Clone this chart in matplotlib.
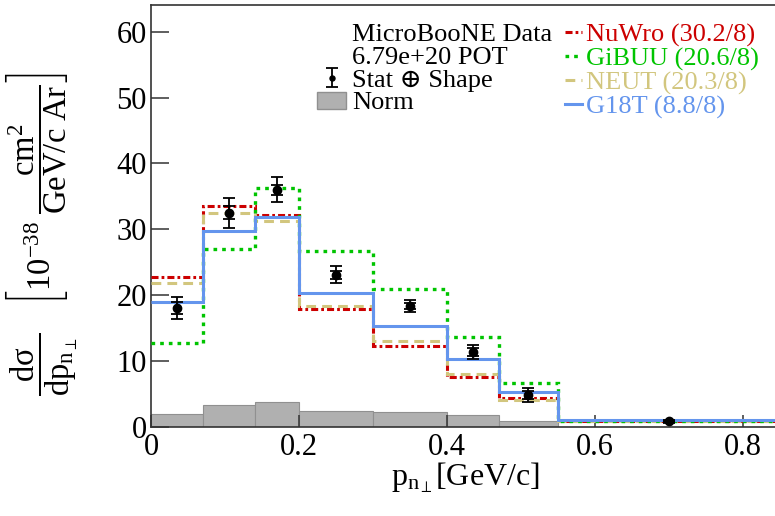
import matplotlib
matplotlib.use('Agg')
import matplotlib.pyplot as plt
from matplotlib.lines import Line2D
from matplotlib.patches import Patch
from matplotlib.legend_handler import HandlerErrorbar

# ---- data ----
bin_edges = [0.0, 0.07, 0.14, 0.20, 0.30, 0.40, 0.47, 0.55, 0.85]
bin_centers = [0.035, 0.105, 0.17, 0.25, 0.35, 0.435, 0.51, 0.70]
data_values = [18.0, 32.5, 36.0, 23.1, 18.3, 11.3, 4.8, 0.8]
err_total = [1.7, 2.3, 1.9, 1.3, 0.9, 1.1, 1.1, 0.2]
err_stat = [0.9, 1.0, 0.8, 0.6, 0.5, 0.6, 0.6, 0.1]
norm_unc = [1.95, 3.2, 3.8, 2.4, 2.15, 1.7, 0.8, 0.0]
nuwro = [22.8, 33.6, 32.1, 17.9, 12.3, 7.5, 4.3, 0.8]
gibuu = [12.7, 27.0, 36.2, 26.7, 20.9, 13.6, 6.6, 0.9]
neut = [21.8, 32.4, 31.3, 18.3, 13.0, 8.0, 4.0, 0.8]
g18t = [19.0, 29.8, 31.8, 20.3, 15.3, 10.3, 5.3, 1.0]
model_names = ["NuWro (30.2/8)", "GiBUU (20.6/8)", "NEUT (20.3/8)", "G18T (8.8/8)"]
x_ticks = [0, 0.2, 0.4, 0.6, 0.8]
x_tick_labels = ['0', '0.2', '0.4', '0.6', '0.8']
y_ticks = [0, 10, 20, 30, 40, 50, 60]

# ---- style ----
plt.rcParams['font.family'] = ['Liberation Serif', 'DejaVu Serif']
plt.rcParams['mathtext.fontset'] = 'custom'
plt.rcParams['mathtext.rm'] = 'Liberation Serif'
plt.rcParams['mathtext.it'] = 'Liberation Serif:italic'
plt.rcParams['mathtext.bf'] = 'Liberation Serif:bold'

c_nuwro = '#cc0000'
c_gibuu = '#00c400'
c_neut = '#d2c67e'
c_g18t = '#6495ed'
ls_nuwro = (0, (2.3, 1.0, 0.9, 1.0))
ls_gibuu = (0, (1.1, 1.5))
ls_neut = (0, (3.2, 2.0))

W, H = 775, 516
fig = plt.figure(figsize=(W / 100, H / 100), dpi=100)
x0, x1 = 151, 780
y_top, y_bot = 5, 426.5
ax = fig.add_axes([x0 / W, (H - y_bot) / H, (x1 - x0) / W, (y_bot - y_top) / H])

# norm band
widths = [bin_edges[i + 1] - bin_edges[i] for i in range(len(norm_unc))]
ax.bar(bin_edges[:-1], norm_unc, width=widths, align='edge', color='#b0b0b0',
       edgecolor='#909090', linewidth=0.8, zorder=1)

# models
ax.stairs(nuwro, bin_edges, baseline=None, color=c_nuwro, linewidth=2.2,
          linestyle=ls_nuwro, zorder=3)
ax.stairs(neut, bin_edges, baseline=None, color=c_neut, linewidth=2.2,
          linestyle=ls_neut, zorder=3)
ax.stairs(gibuu, bin_edges, baseline=None, color=c_gibuu, linewidth=2.4,
          linestyle=ls_gibuu, zorder=3)
ax.stairs(g18t, bin_edges, baseline=None, color=c_g18t, linewidth=2.2,
          linestyle='-', zorder=4)

# data
eb = ax.errorbar(bin_centers, data_values, yerr=err_total, fmt='o', color='black',
                 markersize=6, elinewidth=1.3, capsize=4.5, capthick=1.3, zorder=6)
ax.errorbar(bin_centers, data_values, yerr=err_stat, fmt='none', ecolor='black',
            elinewidth=1.3, capsize=4.5, capthick=1.3, zorder=6)

ax.set_xlim(0, 0.85)
ax.set_ylim(0, 64.1)
ax.set_xticks(x_ticks)
ax.set_xticklabels(x_tick_labels)
ax.set_yticks(y_ticks)
ax.tick_params(axis='both', direction='in', labelsize=22, width=1.1, color='#333333')
ax.tick_params(axis='y', length=13, pad=3)
ax.tick_params(axis='x', length=8.5, pad=5)
for s in ax.spines.values():
    s.set_linewidth(1.2)
    s.set_color('#333333')

ax.set_xlabel(r'$\mathrm{p_{n_{\perp}}[GeV/c]}$', fontsize=23)
ax.xaxis.set_label_coords(0.5, -0.08)

fig.text(42 / W, (H - 234) / H,
         r'$\dfrac{\mathrm{d\sigma}}{\mathrm{dp_{n_{\perp}}}}\quad\left[10^{\mathrm{-38}}\ \dfrac{\mathrm{cm^{2}}}{\mathrm{GeV/c\ Ar}}\right]$',
         rotation=90, ha='center', va='center', fontsize=23.5)

# legends
blank = Line2D([], [], linestyle='none', marker=None)
leg1 = ax.legend([blank, blank, eb, Patch(facecolor='#b0b0b0', edgecolor='#909090')],
                 ['MicroBooNE Data', '6.79e+20 POT', 'Stat \u2295 Shape', 'Norm'],
                 handler_map={eb: HandlerErrorbar(yerr_size=0.35)},
                 markerscale=0.6,
                 loc='upper left', bbox_to_anchor=(317 / W, (H - 23) / H),
                 bbox_transform=fig.transFigure, frameon=False, fontsize=19,
                 borderpad=0, borderaxespad=0, labelspacing=0.0, handlelength=1.1,
                 handleheight=0.62, handletextpad=0.22)
ax.add_artist(leg1)
hs = [Line2D([], [], color=c_nuwro, lw=2.2, linestyle=ls_nuwro),
      Line2D([], [], color=c_gibuu, lw=2.4, linestyle=ls_gibuu),
      Line2D([], [], color=c_neut, lw=2.2, linestyle=ls_neut),
      Line2D([], [], color=c_g18t, lw=2.2)]
leg2 = ax.legend(hs, model_names, loc='upper left', bbox_to_anchor=(565 / W, (H - 23) / H),
                 bbox_transform=fig.transFigure, frameon=False, fontsize=19,
                 borderpad=0, borderaxespad=0, labelspacing=0.0, handlelength=0.66,
                 handletextpad=0.14,
                 labelcolor=[c_nuwro, c_gibuu, c_neut, c_g18t])

fig.savefig('out.png', dpi=100)
